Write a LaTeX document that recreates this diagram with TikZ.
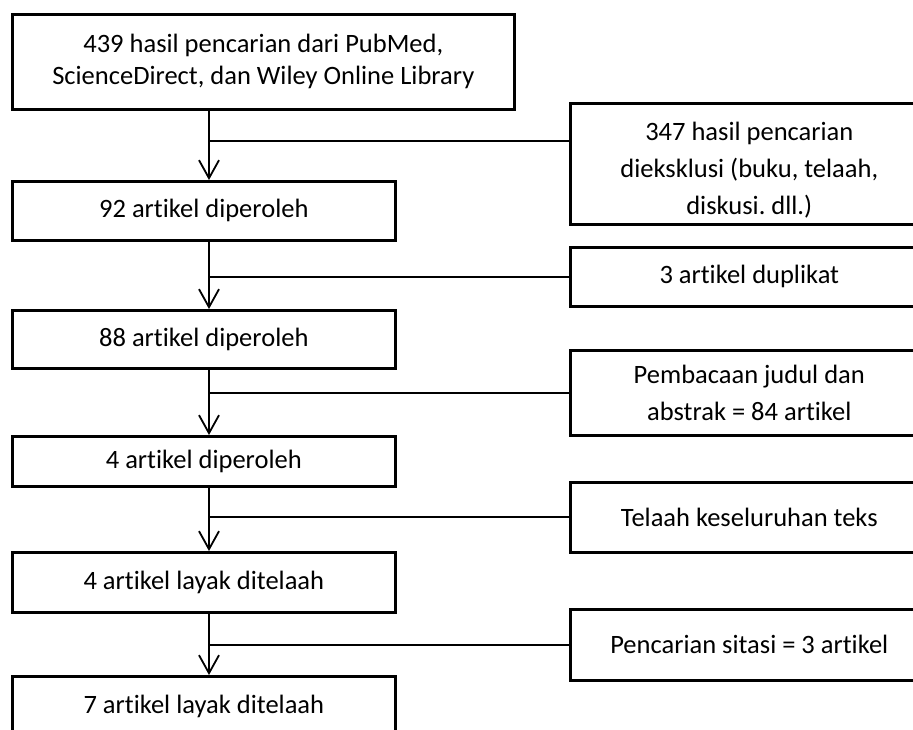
\documentclass[tikz,border=0pt]{standalone}
\usepackage{fontspec}
\setmainfont{Carlito}[Ligatures=NoCommon]
\usetikzlibrary{arrows.meta}
\frenchspacing

\begin{document}
\begin{tikzpicture}[
  x=1pt,y=-1pt,
  font=\fontsize{26.5}{32}\selectfont,
  stage/.style={draw,line width=2.6pt,anchor=north west,inner sep=0pt,minimum width=383pt,align=center},
  excl/.style={draw,line width=2.6pt,anchor=north west,inner sep=0pt,minimum width=358pt,align=center,font=\fontsize{26.5}{37}\selectfont},
  arrow/.style={-{Straight Barb[length=18pt,width=20pt]},line width=1.8pt},
  link/.style={line width=1.8pt}
]
\useasboundingbox (0,0) rectangle (913,729);
\coordinate (spine) at (209,0);

% main flow
\node[stage,minimum width=502pt,minimum height=95pt] (search) at (11,13) {439 hasil pencarian dari PubMed,\\ScienceDirect, dan Wiley Online Library};
\node[stage,minimum height=59pt] (got92) at (11,180) {92 artikel diperoleh};
\node[stage,minimum height=58pt] (got88) at (11,309) {88 artikel diperoleh};
\node[stage,minimum height=50pt] (got4) at (11,435) {4 artikel diperoleh};
\node[stage,minimum height=60pt] (elig4) at (11,551) {4 artikel layak ditelaah};
\node[stage,minimum height=60pt] (elig7) at (11,675) {7 artikel layak ditelaah};

% exclusions
\node[excl,minimum height=121pt] (ex347) at (569,102) {\rule{0pt}{32pt}347 hasil pencarian\\dieksklusi (buku, telaah,\\diskusi. dll.)};
\node[excl,minimum height=59pt] (dup) at (569,246) {3 artikel duplikat};
\node[excl,minimum height=85pt] (abstr) at (569,349) {Pembacaan judul dan\\abstrak = 84 artikel};
\node[excl,minimum height=70pt] (fulltext) at (569,481) {Telaah keseluruhan teks};
\node[excl,minimum height=71pt] (cite) at (569,608) {Pencarian sitasi = 3 artikel};

\draw[arrow] (search.south -| spine) -- (got92.north -| spine);
\draw[arrow] (got92.south -| spine) -- (got88.north -| spine);
\draw[arrow] (got88.south -| spine) -- (got4.north -| spine);
\draw[arrow] (got4.south -| spine) -- (elig4.north -| spine);
\draw[arrow] (elig4.south -| spine) -- (elig7.north -| spine);

\path ([yshift=22.5pt]ex347.west) coordinate (j347);
\draw[link] (j347) -- (j347 -| spine);
\draw[link] (dup.west) -- (dup.west -| spine);
\draw[link] (abstr.west) -- (abstr.west -| spine);
\draw[link] (fulltext.west) -- (fulltext.west -| spine);
\draw[link] (cite.west) -- (cite.west -| spine);
\end{tikzpicture}
\end{document}
